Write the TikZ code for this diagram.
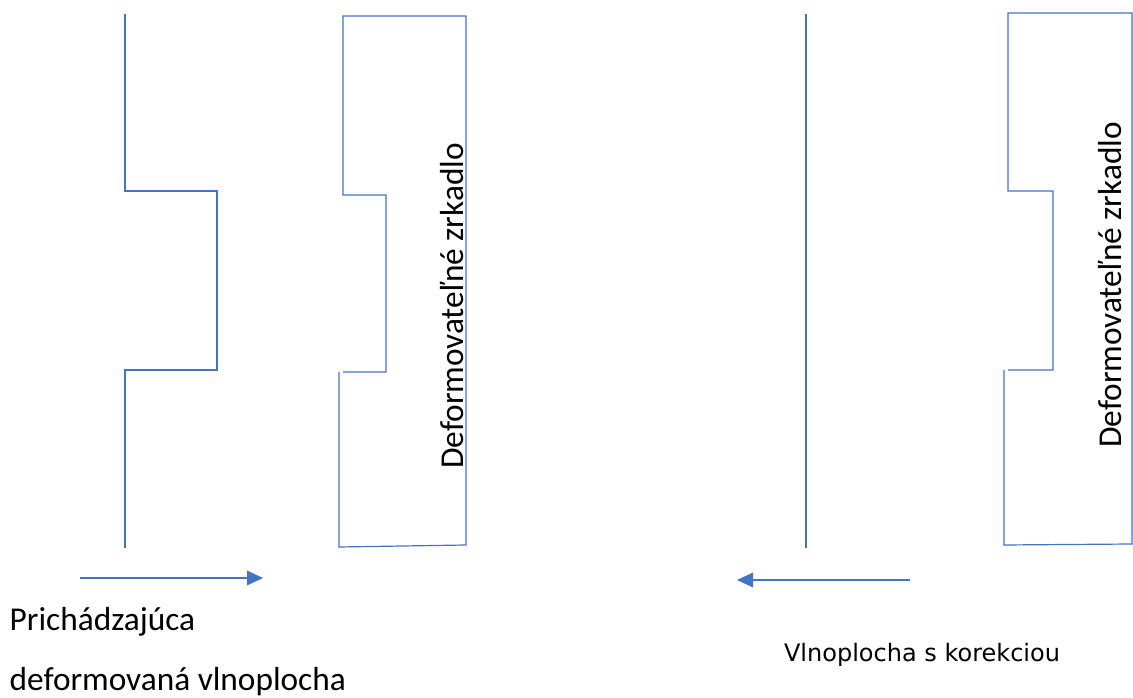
\documentclass[tikz,border=0pt]{standalone}
\usepackage{fontspec}
\setmainfont{Carlito}
\newfontfamily\verdanafont{DejaVu Sans}
\usetikzlibrary{arrows.meta}
\definecolor{wave}{HTML}{4472C4}
\tikzset{
	front/.style = {draw = wave, line width = 0.9pt},
	flow/.style = {draw = wave, line width = 0.9pt, -{Triangle[length = 12pt, width = 11pt]}},
	mirror label/.style = {rotate = 90, font = \fontsize{25}{30}\selectfont},
	side label/.style = {anchor = west, font = \fontsize{25}{30}\selectfont}
}
\begin{document}
\begin{tikzpicture}[x = 0.75pt, y = -0.75pt]
		\useasboundingbox (0, 0) rectangle (1133, 698);
		% incoming wavefront
		\draw[front] (125, 14) -- (125, 191) -- (217, 191) -- (217, 370) -- (125, 370) -- (125, 548);
		% first mirror
		\draw[front] (343, 372) -- (386, 372) -- (386, 195) -- (343, 195) -- (343, 16) -- (466, 16) -- (466, 545) -- (339, 547) -- (339, 372);
		\node[mirror label] (mirrorA) at (452, 306) {Deformovateľné zrkadlo};
		% corrected wavefront
		\draw[front] (806, 14) -- (806, 548);
		% second mirror
		\draw[front] (1008, 370) -- (1053, 370) -- (1053, 191) -- (1008, 191) -- (1008, 13) -- (1132, 13) -- (1132, 544) -- (1004, 545) -- (1004, 370);
		\node[mirror label] (mirrorB) at (1110, 285) {Deformovateľné zrkadlo};
		% arrows
		\coordinate (inA) at (80, 578);
		\coordinate (inB) at (263, 578);
		\coordinate (outA) at (910, 580);
		\coordinate (outB) at (737, 580);
		\draw[flow] (inA) -- (inB);
		\draw[flow] (outA) -- (outB);
		% labels
		\node[side label] (incoming) at (5, 622) {Prichádzajúca};
		\node[side label] (deformed) at (5, 682) {deformovaná vlnoplocha};
		\node[font = \verdanafont\fontsize{18}{22}\selectfont] (corrected) at (922, 655) {Vlnoplocha s korekciou};
	\end{tikzpicture}
\end{document}
